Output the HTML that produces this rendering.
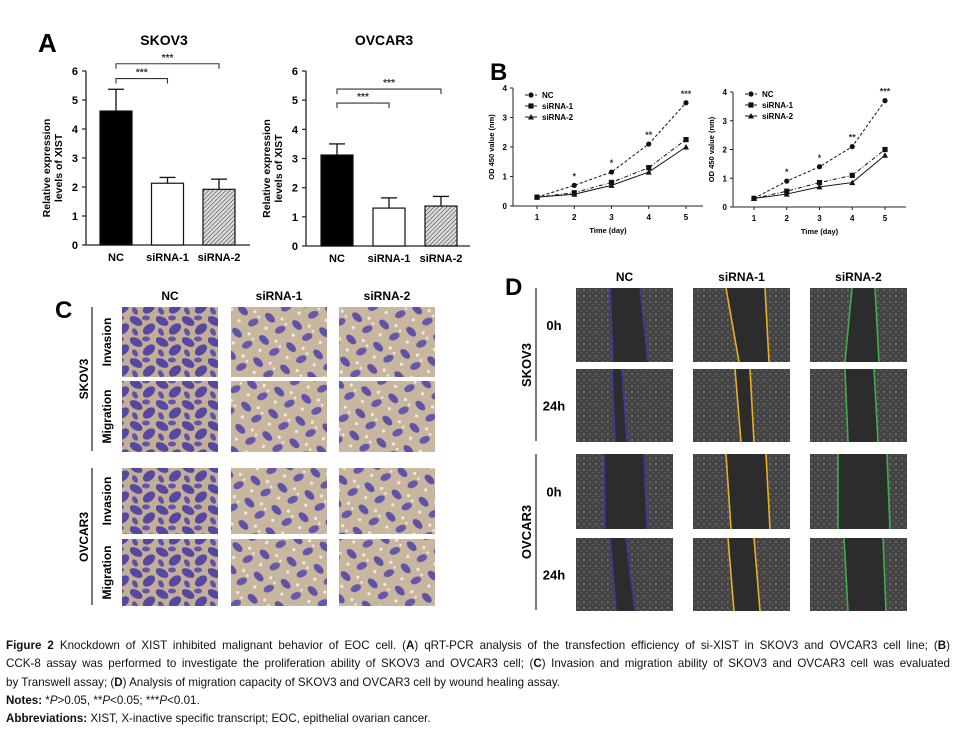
<!DOCTYPE html>
<html><head><meta charset="utf-8"><style>
html,body{margin:0;padding:0;background:#fff;width:957px;height:729px;overflow:hidden}
svg{position:absolute;left:0;top:0}
#cap{position:absolute;left:6px;top:637px;width:944px;font-family:"Liberation Sans",sans-serif;font-size:11.6px;line-height:18.3px;color:#111}
#cap div{white-space:nowrap}
.j{text-align:justify;text-align-last:justify;white-space:normal!important}
</style></head><body>
<svg id="fig" width="957" height="729" xmlns="http://www.w3.org/2000/svg" font-family="Liberation Sans, sans-serif">
<defs>
<pattern id="hatch" width="3" height="3" patternUnits="userSpaceOnUse" patternTransform="rotate(45)"><rect width="3" height="3" fill="#ddd"/><line x1="0" y1="0" x2="0" y2="3" stroke="#444" stroke-width="1.2"/></pattern>
<pattern id="cellsDense" width="26" height="21" patternUnits="userSpaceOnUse"><rect width="26" height="21" fill="#c3ae98"/><ellipse cx="6" cy="6" rx="7" ry="4" fill="#5548a0" transform="rotate(30 6 6)"/><ellipse cx="19" cy="14" rx="7" ry="4.5" fill="#5548a0" transform="rotate(-40 19 14)"/><ellipse cx="16" cy="3" rx="4" ry="2.5" fill="#6356aa"/><ellipse cx="5" cy="17" rx="4" ry="2.5" fill="#5f52a8" transform="rotate(60 5 17)"/></pattern>
<pattern id="cellsSparse" width="28" height="23" patternUnits="userSpaceOnUse" patternTransform="rotate(15)"><rect width="28" height="23" fill="#c9b69f"/><ellipse cx="7" cy="7" rx="6" ry="3.5" fill="#5e52a6" transform="rotate(30 7 7)"/><ellipse cx="20" cy="16" rx="5.5" ry="3.5" fill="#6458aa" transform="rotate(-40 20 16)"/><circle cx="19" cy="5" r="1.6" fill="#efe9df"/><circle cx="6" cy="18" r="1.6" fill="#efe9df"/><circle cx="24" cy="9" r="1.3" fill="#efe9df"/></pattern>
<pattern id="scratch" width="6" height="6" patternUnits="userSpaceOnUse"><rect width="6" height="6" fill="#434343"/><circle cx="2" cy="2" r="1" fill="#707070"/><circle cx="5" cy="4.5" r="0.8" fill="#626262"/></pattern>
</defs>
<g id="panelA"></g>
<g id="panelB"></g>
<g id="panelC"></g>
<g id="panelD"></g>
</svg>
<div id="cap">
<div class="j"><b>Figure 2</b> Knockdown of XIST inhibited malignant behavior of EOC cell. (<b>A</b>) qRT-PCR analysis of the transfection efficiency of si-XIST in SKOV3 and OVCAR3 cell line; (<b>B</b>)</div>
<div class="j">CCK-8 assay was performed to investigate the proliferation ability of SKOV3 and OVCAR3 cell; (<b>C</b>) Invasion and migration ability of SKOV3 and OVCAR3 cell was evaluated</div>
<div>by Transwell assay; (<b>D</b>) Analysis of migration capacity of SKOV3 and OVCAR3 cell by wound healing assay.</div>
<div><b>Notes:</b> *<i>P</i>&gt;0.05, **<i>P</i>&lt;0.05; ***<i>P</i>&lt;0.01.</div>
<div><b>Abbreviations:</b> XIST, X-inactive specific transcript; EOC, epithelial ovarian cancer.</div>
</div>
<script>
const NS="http://www.w3.org/2000/svg";
// ---- Panel A data ----
const barCategories=["NC","siRNA-1","siRNA-2"];
const skovMeans=[4.62,2.13,1.92];
const skovErrors=[0.75,0.2,0.35];
const ovcarMeans=[3.12,1.3,1.37];
const ovcarErrors=[0.38,0.35,0.33];
const barTicks=[0,1,2,3,4,5,6];
const skovBrackets=[5.74,6.25];
const ovcarBrackets=[4.9,5.38];
// ---- Panel B data ----
const days=[1,2,3,4,5];
const skovNC=[0.3,0.7,1.15,2.1,3.5];
const skovSi1=[0.3,0.45,0.8,1.3,2.25];
const skovSi2=[0.3,0.4,0.7,1.15,2.0];
const ovcarNC=[0.3,0.9,1.4,2.1,3.7];
const ovcarSi1=[0.3,0.55,0.85,1.1,2.0];
const ovcarSi2=[0.3,0.45,0.7,0.85,1.8];
const odTicks=[0,1,2,3,4];
const sigLabels=["","*","*","**","***"];

function el(tag,attrs,parent,text){const e=document.createElementNS(NS,tag);for(const k in attrs)e.setAttribute(k,attrs[k]);if(text!==undefined)e.textContent=text;parent.appendChild(e);return e;}

function barChart(g,title,means,errs,brackets,ax){
  const y=v=>ax.y0-(v/6)*(ax.y0-ax.y6);
  const t=el("text",{x:ax.titleX,y:45,"font-size":14,"font-weight":"bold","text-anchor":"middle"},g,title);
  
  
  const yl=el("line",{x1:ax.x,y1:y(6),x2:ax.x,y2:y(0),stroke:"#222","stroke-width":1.3},g);
  
  
  const xl=el("line",{x1:ax.x,y1:y(0),x2:ax.xEnd,y2:y(0),stroke:"#222","stroke-width":1.3},g);
  
  
  barTicks.forEach(v=>{
    el("line",{x1:ax.x-4,y1:y(v),x2:ax.x,y2:y(v),stroke:"#222","stroke-width":1.2},g);
    const tl=el("text",{x:ax.x-8,y:y(v)+4,"font-size":11,"font-weight":"bold","text-anchor":"end"},g,String(v));
    
    
  });
  const yt=el("text",{transform:`translate(${ax.x-36},${(y(0)+y(6))/2+10}) rotate(-90)`,"font-size":10.5,"font-weight":"bold","text-anchor":"middle"},g);
  
  
  el("tspan",{x:0,dy:0},yt,"Relative expression");
  el("tspan",{x:0,dy:12},yt,"levels of XIST");
  const fills=["#000","#fff","url(#hatch)"];
  means.forEach((m,i)=>{
    const bx=ax.bar0+i*ax.step;
    const r=el("rect",{x:bx,y:y(m),width:ax.bw,height:y(0)-y(m),fill:fills[i],stroke:"#111","stroke-width":1.2},g);
    
    
    const cx=bx+ax.bw/2;
    el("line",{x1:cx,y1:y(m),x2:cx,y2:y(m+errs[i]),stroke:"#111","stroke-width":1.3},g);
    el("line",{x1:cx-8,y1:y(m+errs[i]),x2:cx+8,y2:y(m+errs[i]),stroke:"#111","stroke-width":1.3},g);
    const xt=el("text",{x:cx,y:y(0)+16,"font-size":11,"font-weight":"bold","text-anchor":"middle"},g,barCategories[i]);
    
    
  });
  brackets.forEach((b,k)=>{
    const x1=ax.bar0+ax.bw/2, x2=ax.bar0+(k+1)*ax.step+ax.bw/2, yy=y(b);
    const p=el("path",{d:`M${x1},${yy+5}V${yy}H${x2}V${yy+5}`,fill:"none",stroke:"#333","stroke-width":1.1},g);
    
    
    el("text",{x:(x1+x2)/2,y:yy-3,"font-size":10,"font-weight":"bold","text-anchor":"middle",fill:"#333"},g,"***");
  });
}
const gA=document.getElementById("panelA");
el("text",{x:38,y:52,"font-size":26,"font-weight":"bold"},gA,"A");
barChart(gA,"SKOV3",skovMeans,skovErrors,skovBrackets,{x:86,xEnd:250,y0:245,y6:71,bar0:100,step:51.5,bw:32,titleX:164});
barChart(gA,"OVCAR3",ovcarMeans,ovcarErrors,ovcarBrackets,{x:306,xEnd:470,y0:246,y6:71,bar0:321,step:52,bw:32,titleX:384});

function lineChart(g,series,ax){
  const y=v=>ax.y0-(v/4)*(ax.y0-ax.y4);
  const x=d=>ax.x1+(d-1)*(ax.x5-ax.x1)/4;
  const ya=el("line",{x1:ax.x,y1:y(4),x2:ax.x,y2:y(0),stroke:"#222","stroke-width":1},g);
  
  
  const xa=el("line",{x1:ax.x,y1:y(0),x2:ax.xEnd,y2:y(0),stroke:"#222","stroke-width":1},g);
  
  
  odTicks.forEach(v=>{
    el("line",{x1:ax.x-3,y1:y(v),x2:ax.x,y2:y(v),stroke:"#222"},g);
    el("text",{x:ax.x-6,y:y(v)+3,"font-size":8,"font-weight":"bold","text-anchor":"end"},g,String(v));
  });
  days.forEach(d=>{
    el("line",{x1:x(d),y1:y(0),x2:x(d),y2:y(0)+3,stroke:"#222"},g);
    el("text",{x:x(d),y:y(0)+14,"font-size":8,"font-weight":"bold","text-anchor":"middle"},g,String(d));
  });
  const xt=el("text",{x:(ax.x+ax.xEnd)/2,y:y(0)+27,"font-size":7.5,"font-weight":"bold","text-anchor":"middle"},g,"Time (day)");
  
  
  const yt=el("text",{transform:`translate(${ax.x-19},${(y(0)+y(4))/2}) rotate(-90)`,"font-size":7.5,"font-weight":"bold","text-anchor":"middle"},g,"OD 450 value (nm)");
  
  
  const names=["NC","siRNA-1","siRNA-2"], dashes=["3,2","4,2,1,2",""], marks=["c","s","t"];
  function mark(type,cx,cy){
    if(type==="c")return el("circle",{cx,cy,r:2.6,fill:"#111"},g);
    if(type==="s")return el("rect",{x:cx-2.6,y:cy-2.6,width:5.2,height:5.2,fill:"#111"},g);
    return el("path",{d:`M${cx},${cy-3}L${cx+3},${cy+2.5}L${cx-3},${cy+2.5}Z`,fill:"#111"},g);
  }
  series.forEach((s,si)=>{
    const pl=el("polyline",{points:s.map((v,i)=>x(days[i])+","+y(v)).join(" "),fill:"none",stroke:"#111","stroke-width":1,"stroke-dasharray":dashes[si]},g);
    
    
    s.forEach((v,i)=>{const m=mark(marks[si],x(days[i]),y(v));
      
      });
    const ly=ax.legY+si*11;
    el("line",{x1:ax.x+12,y1:ly,x2:ax.x+24,y2:ly,stroke:"#111","stroke-dasharray":dashes[si]},g);
    mark(marks[si],ax.x+18,ly);
    const lt=el("text",{x:ax.x+29,y:ly+3,"font-size":8,"font-weight":"bold"},g,names[si]);
    
    
  });
  sigLabels.forEach((s,i)=>{ if(s) el("text",{x:x(days[i]),y:y(series[0][i])-6,"font-size":9,"font-weight":"bold","text-anchor":"middle",fill:"#333"},g,s);});
}
const gB=document.getElementById("panelB");
el("text",{x:490,y:80,"font-size":24,"font-weight":"bold"},gB,"B");
lineChart(gB,[skovNC,skovSi1,skovSi2],{x:513,xEnd:703,x1:537,x5:686,y0:206,y4:88,legY:95});
lineChart(gB,[ovcarNC,ovcarSi1,ovcarSi2],{x:733,xEnd:906,x1:754,x5:885,y0:207,y4:92,legY:94});

// ---- Panel C (micrographs) ----
const gC=document.getElementById("panelC");
el("text",{x:55,y:318,"font-size":24,"font-weight":"bold"},gC,"C");
const cCols=[122,231,339], cW=96, cRows=[[307,70],[381,71],[468,66],[539,67]];
["NC","siRNA-1","siRNA-2"].forEach((h,i)=>el("text",{x:cCols[i]+cW/2,y:300,"font-size":12,"font-weight":"bold","text-anchor":"middle"},gC,h));
cRows.forEach((r,ri)=>cCols.forEach((cx,ci)=>{
  const im=el("rect",{x:cx,y:r[0],width:cW,height:r[1],fill:(ci===0)?"url(#cellsDense)":"url(#cellsSparse)"},gC);
  
  
}));
["Invasion","Migration","Invasion","Migration"].forEach((t,i)=>el("text",{transform:`translate(${111},${cRows[i][0]+cRows[i][1]/2}) rotate(-90)`,"font-size":12,"font-weight":"bold","text-anchor":"middle"},gC,t));
el("line",{x1:92,y1:307,x2:92,y2:451,stroke:"#333","stroke-width":1.3},gC);
el("line",{x1:92,y1:468,x2:92,y2:605,stroke:"#333","stroke-width":1.3},gC);
el("text",{transform:"translate(88,379) rotate(-90)","font-size":12,"font-weight":"bold","text-anchor":"middle"},gC,"SKOV3");
el("text",{transform:"translate(88,537) rotate(-90)","font-size":12,"font-weight":"bold","text-anchor":"middle"},gC,"OVCAR3");

// ---- Panel D (wound healing) ----
const gD=document.getElementById("panelD");
el("text",{x:505,y:295,"font-size":24,"font-weight":"bold"},gD,"D");
const dCols=[576,693,810], dW=97, dRows=[[288,74],[369,73],[454,75],[538,73]];
const dColors=["#3a3a9a","#e8b020","#3fae4a"];
const gapTop=[[[34,64],[33,72],[42,65]],[[36,46],[42,57],[35,64]],[[28,68],[33,73],[28,77]],[[34,50],[35,61],[34,73]]];
const gapBot=[[[37,72],[46,76],[35,69]],[[39,51],[48,61],[38,68]],[[29,71],[38,77],[28,80]],[[40,59],[41,67],[38,76]]];
["NC","siRNA-1","siRNA-2"].forEach((h,i)=>el("text",{x:dCols[i]+dW/2,y:281,"font-size":12,"font-weight":"bold","text-anchor":"middle"},gD,h));
dRows.forEach((r,ri)=>dCols.forEach((cx,ci)=>{
  const im=el("rect",{x:cx,y:r[0],width:dW,height:r[1],fill:"url(#scratch)"},gD);
  
  
  const t=gapTop[ri][ci], b=gapBot[ri][ci];
  el("path",{d:`M${cx+t[0]},${r[0]}L${cx+t[1]},${r[0]}L${cx+b[1]},${r[0]+r[1]}L${cx+b[0]},${r[0]+r[1]}Z`,fill:"#2c2c2c"},gD);
  el("line",{x1:cx+t[0],y1:r[0],x2:cx+b[0],y2:r[0]+r[1],stroke:dColors[ci],"stroke-width":1.6},gD);
  el("line",{x1:cx+t[1],y1:r[0],x2:cx+b[1],y2:r[0]+r[1],stroke:dColors[ci],"stroke-width":1.6},gD);
}));
["0h","24h","0h","24h"].forEach((t,i)=>el("text",{x:554,y:dRows[i][0]+dRows[i][1]/2+5,"font-size":13,"font-weight":"bold","text-anchor":"middle"},gD,t));
el("line",{x1:536,y1:288,x2:536,y2:441,stroke:"#333","stroke-width":1.3},gD);
el("line",{x1:536,y1:454,x2:536,y2:610,stroke:"#333","stroke-width":1.3},gD);
el("text",{transform:"translate(531,365) rotate(-90)","font-size":13,"font-weight":"bold","text-anchor":"middle"},gD,"SKOV3");
el("text",{transform:"translate(531,532) rotate(-90)","font-size":13,"font-weight":"bold","text-anchor":"middle"},gD,"OVCAR3");
</script>
</body></html>
